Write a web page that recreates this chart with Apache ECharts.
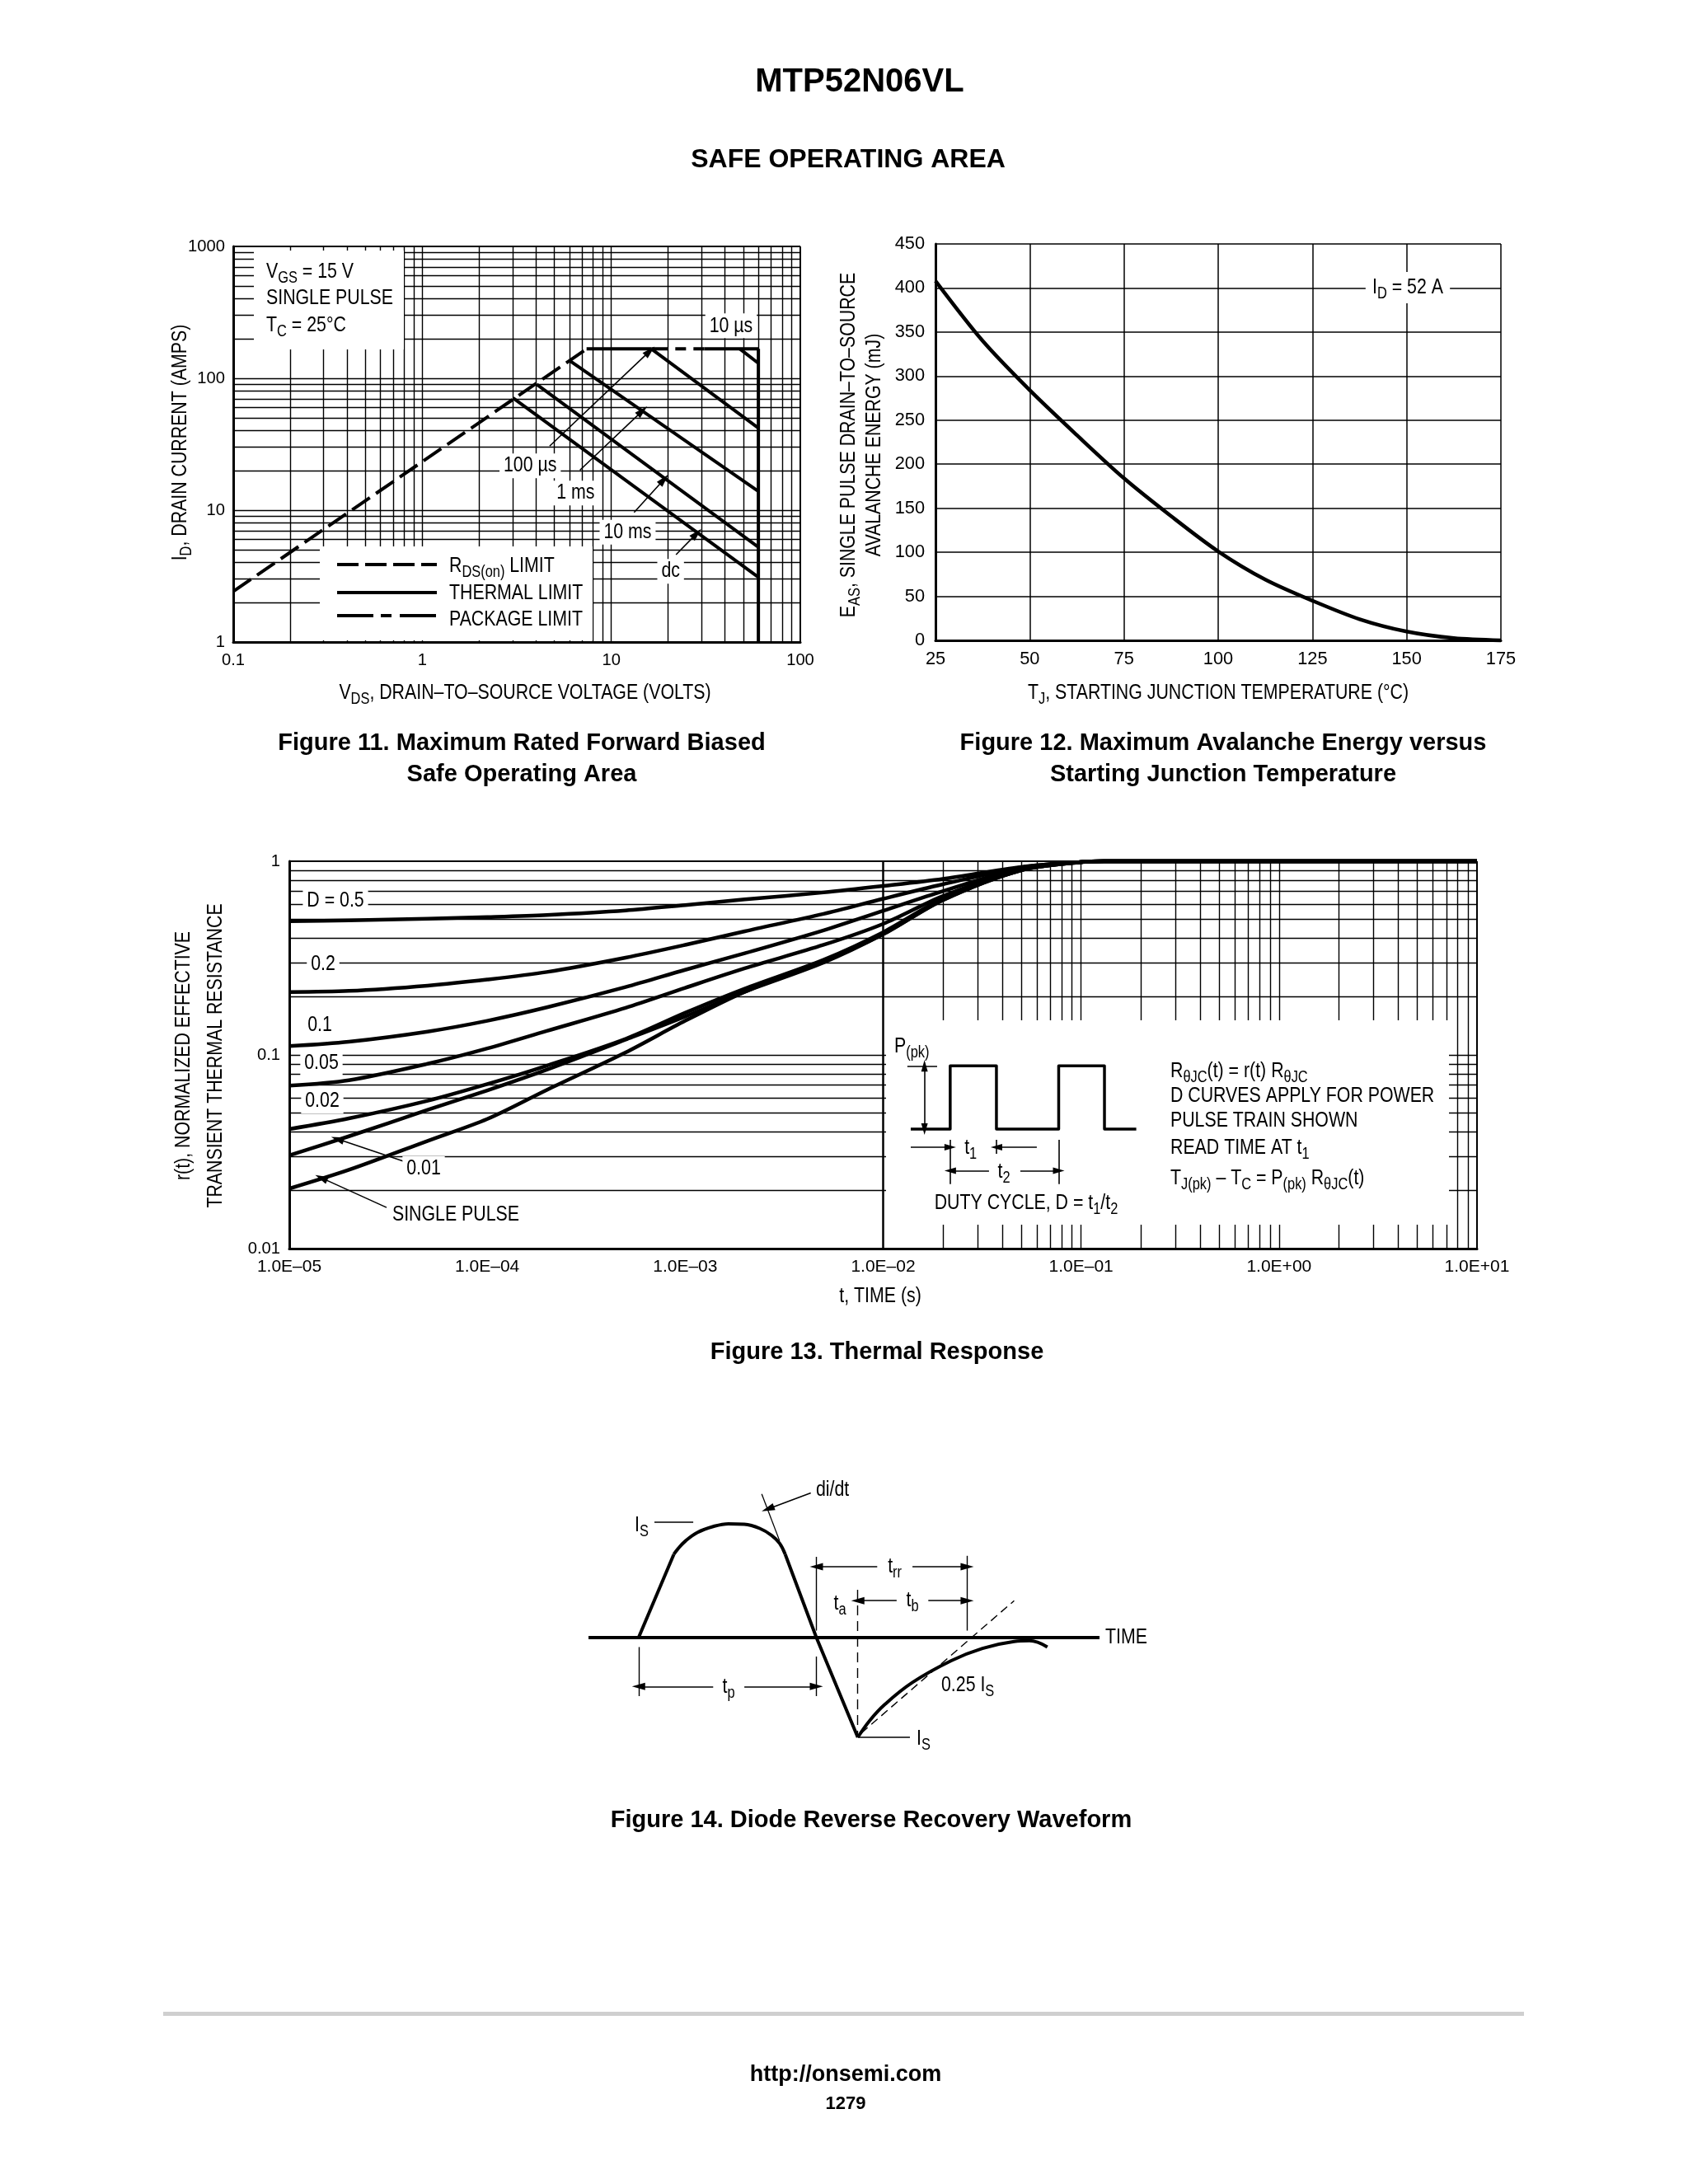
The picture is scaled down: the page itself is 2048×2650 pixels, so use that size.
<!DOCTYPE html>
<html><head><meta charset="utf-8">
<script src="https://cdn.jsdelivr.net/npm/echarts@6.0.0/dist/echarts.min.js"></script>
<style>html,body{margin:0;padding:0;background:#fff}#c{width:2048px;height:2650px}</style>
</head><body><div id="c"></div>
<script>
// ---------------- DATA ----------------
// Figure 11 : safe operating area (VDS volts, ID amps)
const F11_X_TICKS = ['0.1', '1', '10', '100'];
const F11_Y_TICKS = ['1', '10', '100', '1000'];
const F11_RDS_LIMIT = [[0.1, 2.42], [7.4, 167]];
const F11_TOP_THERMAL = [[7.4, 167], [16.3, 167]];
const F11_PACKAGE_LIMIT = [[16.3, 167], [31, 167]];
const F11_TOP_RIGHT = [[31, 167], [60, 167]];
const F11_VDSS_LIMIT = [[60, 1], [60, 167]];
const F11_10US = [[47.9, 167], [60, 130]];
const F11_100US = [[16.3, 167], [60, 42]];
const F11_1MS = [[5.98, 137], [60, 13.9]];
const F11_10MS = [[4.03, 90], [60, 5.25]];
const F11_DC = [[3.02, 71], [60, 3.1]];
const F11_ARROWS = [
  [[4.72, 30.6], [16.0, 161]],
  [[6.82, 20.1], [14.6, 56.6]],
  [[13.2, 9.6], [19.0, 17.1]],
  [[22.0, 4.6], [28.3, 6.65]]
];
const F11_LABELS = [['100 µs', [3.72, 21.7]], ['1 ms', [6.47, 13.5]], ['10 ms', [12.2, 6.8]], ['dc', [20.6, 3.44]], ['10 µs', [43, 250]]];

// Figure 12 : avalanche energy vs starting junction temperature
const F12_TJ = [25, 37.5, 50, 62.5, 75, 87.5, 100, 112.5, 125, 137.5, 150, 162.5, 175];
const F12_EAS = [408, 340, 284, 233, 184, 141, 101, 69, 45, 24, 10, 2.5, 0];

// Figure 13 : thermal response
const F13_X_TICKS = ['1.0E–05', '1.0E–04', '1.0E–03', '1.0E–02', '1.0E–01', '1.0E+00', '1.0E+01'];
const F13_Y_TICKS = ['0.01', '0.1', '1'];
const F13_T = [1e-5, 2e-5, 5e-5, 1e-4, 2e-4, 5e-4, 1e-3, 2e-3, 5e-3, 1e-2, 2e-2, 5e-2, 1e-1, 1.3e-1, 1, 10];
const F13_D050 = [0.49, 0.495, 0.505, 0.515, 0.528, 0.557, 0.594, 0.635, 0.69, 0.745, 0.81, 0.935, 0.99, 1, 1, 1];
const F13_D020 = [0.211, 0.214, 0.228, 0.245, 0.268, 0.318, 0.37, 0.435, 0.535, 0.64, 0.76, 0.93, 0.99, 1, 1, 1];
const F13_D010 = [0.111, 0.117, 0.132, 0.150, 0.176, 0.224, 0.275, 0.335, 0.44, 0.555, 0.70, 0.92, 0.99, 1, 1, 1];
const F13_D005 = [0.0694, 0.074, 0.090, 0.108, 0.133, 0.175, 0.222, 0.28, 0.37, 0.475, 0.66, 0.91, 0.99, 1, 1, 1];
const F13_D002 = [0.0414, 0.047, 0.058, 0.0707, 0.088, 0.121, 0.165, 0.22, 0.31, 0.43, 0.64, 0.90, 0.99, 1, 1, 1];
const F13_D001 = [0.0303, 0.038, 0.052, 0.0656, 0.084, 0.12, 0.158, 0.212, 0.30, 0.42, 0.63, 0.90, 0.99, 1, 1, 1];
const F13_SINGLE = [0.0204, 0.0255, 0.036, 0.0467, 0.066, 0.103, 0.15, 0.212, 0.305, 0.42, 0.63, 0.90, 0.99, 1, 1, 1];
const F13_ARROWS = [[[3.8e-5, 0.0282], [1.75e-5, 0.0368]], [[3.1e-5, 0.0163], [1.45e-5, 0.0232]]];
// inset pulse train (arbitrary time units, normalised power)
const F13_PULSE = [[0, 0], [1.75, 0], [1.75, 1], [3.8, 1], [3.8, 0], [6.56, 0], [6.56, 1], [8.59, 1], [8.59, 0], [10, 0]];

// Figure 14 : diode reverse recovery waveform (arbitrary time, current normalised to IS)
const F14_BASE = [[0, 0], [100, 0]];
const F14_RISE = [[9.8, 0], [16.7, 0.835]];
const F14_ARC = [[16.7, 0.835], [17.5, 0.89], [19.0, 0.97], [21.3, 1.054], [24.4, 1.114], [27.4, 1.141], [30.5, 1.136], [33.5, 1.095], [35.8, 1.026], [37.4, 0.945], [38.5, 0.835]];
const F14_FALL = [[38.5, 0.835], [44.6, 0], [52.7, -1]];
const F14_RECOVERY = [[52.7, -1], [55.0, -0.834], [58.0, -0.67], [63.4, -0.45], [71.0, -0.232], [77.1, -0.109], [83.3, -0.04], [86.3, -0.032], [89.8, -0.095]];

// ---------------- FONTS ----------------
function hasFont(name) {
  const ctx = document.createElement('canvas').getContext('2d');
  const s = 'THERMAL LIMIT 0123 mmmWW';
  ctx.font = '40px monospace'; const a = ctx.measureText(s).width;
  ctx.font = '40px "' + name + '", monospace'; const b = ctx.measureText(s).width;
  return Math.abs(a - b) > 0.5;
}
const NARROW = hasFont('Liberation Sans Narrow');
const CF = NARROW ? '"Liberation Sans Narrow", "Liberation Sans", Arial, sans-serif' : '"Liberation Sans", Arial, sans-serif';
const BF = '"Liberation Sans", Arial, Helvetica, sans-serif';
const K = NARROW ? 1 : 0.84;
const SX = NARROW ? 1 : 0.82;
const fs = n => Math.round(n * K * 10) / 10;

function T(x, y, text, o) {
  o = o || {};
  const size = o.size || 26;
  const fam = o.bold ? BF : CF;
  return {
    type: 'text', x: x, y: y, z: 20, rotation: o.rot || 0, scaleX: o.bold ? 1 : SX, silent: true,
    style: {
      text: text, fill: '#000', fontFamily: fam, fontWeight: o.bold ? 'bold' : 'normal', fontSize: size,
      align: o.align || 'left', verticalAlign: 'middle',
      backgroundColor: o.bg || 'transparent', padding: o.pad || 0,
      rich: { s: { fontFamily: fam, fontSize: Math.round(size * 0.76), padding: [Math.round(size * 0.55), 0, 0, 0] } }
    }
  };
}
function R(x, y, w, h, fill) { return { type: 'rect', z: 3, silent: true, shape: { x: x, y: y, width: w, height: h }, style: { fill: fill || '#fff' } }; }
function L(x1, y1, x2, y2, dash, w) { return { type: 'line', z: 21, silent: true, shape: { x1: x1, y1: y1, x2: x2, y2: y2 }, style: { stroke: '#000', lineWidth: w || 4, lineDash: dash || null } }; }

// ---------------- HELPERS ----------------
function logLines(min, max) {
  const out = [];
  for (let e = Math.round(Math.log10(min)); e < Math.round(Math.log10(max)); e++) {
    for (let m = 1; m <= 9; m++) { const v = m * Math.pow(10, e); if (v > min * 1.0001) out.push(v); }
  }
  return out;
}
function gridSeries(gi, xs, ys, xB, yB, w) {
  const d = [];
  xs.forEach(v => d.push({ xAxis: v }));
  ys.forEach(v => d.push({ yAxis: v }));
  d.push({ xAxis: xB, lineStyle: { color: '#000', width: 2, type: 'solid' } });
  d.push({ yAxis: yB, lineStyle: { color: '#000', width: 2, type: 'solid' } });
  return {
    type: 'line', xAxisIndex: gi, yAxisIndex: gi, z: 1, silent: true, symbol: 'none', clip: false,
    data: [[xs[0], ys[0]]], lineStyle: { opacity: 0 },
    markLine: { z: 1, silent: true, animation: false, symbol: ['none', 'none'], label: { show: false }, emphasis: { disabled: true },
      lineStyle: { color: '#000', width: w, type: 'solid' }, data: d }
  };
}
function curve(gi, data, o) {
  o = o || {};
  return {
    type: 'line', xAxisIndex: gi, yAxisIndex: gi, data: data, symbol: 'none', showSymbol: false, z: o.z || 5, silent: true, clip: false,
    smooth: o.smooth || false,
    lineStyle: { color: '#000', width: o.w || 4, type: o.dash || 'solid', cap: 'butt', join: 'round' }
  };
}
function seg(a, b, o) {
  o = o || {};
  const ss = o.ss || [9, 16];
  return [
    { coord: a, symbol: o.s0 || 'none', symbolSize: ss, lineStyle: { color: '#000', width: o.w || 1.6, type: o.dash || 'solid' } },
    { coord: b, symbol: o.s1 || 'none', symbolSize: ss }
  ];
}
function annSeries(gi, segs, anchor) {
  return {
    type: 'line', xAxisIndex: gi, yAxisIndex: gi, z: 6, silent: true, symbol: 'none', clip: false,
    data: [anchor], lineStyle: { opacity: 0 },
    markLine: { z: 6, silent: true, animation: false, label: { show: false }, emphasis: { disabled: true }, symbol: ['none', 'none'], data: segs }
  };
}
const tickIdx = (v, off) => Math.round(Math.log10(Number(v))) + off;
function logAxis(gi, min, max, labels, off, size, margin) {
  return {
    gridIndex: gi, type: 'log', logBase: 10, min: min, max: max, z: 2,
    axisLine: { show: true, onZero: false, lineStyle: { color: '#000', width: 3 } },
    axisTick: { show: false }, splitLine: { show: false }, minorTick: { show: false }, minorSplitLine: { show: false },
    axisLabel: { show: true, margin: margin, color: '#000', fontFamily: CF, fontSize: fs(size), showMinLabel: true, showMaxLabel: true,
      formatter: v => labels[tickIdx(v, off)] || '' }
  };
}
function valAxis(gi, min, max, interval, size, margin) {
  return {
    gridIndex: gi, type: 'value', min: min, max: max, interval: interval, z: 2,
    axisLine: { show: true, onZero: false, lineStyle: { color: '#000', width: 3 } },
    axisTick: { show: false },
    splitLine: { show: true, lineStyle: { color: '#000', width: 1.5 } },
    axisLabel: { show: true, margin: margin, color: '#000', fontFamily: CF, fontSize: fs(size), showMinLabel: true, showMaxLabel: true }
  };
}
function hidden(gi, min, max) { return { gridIndex: gi, type: 'value', min: min, max: max, show: false, splitLine: { show: false } }; }

const zip = (xs, ys) => xs.map((x, i) => [x, ys[i]]);

// ---------------- CHART ----------------
const chart = echarts.init(document.getElementById('c'), null, { width: 2048, height: 2650, renderer: 'canvas' });

const grids = [
  { left: 283, top: 299, width: 688, height: 480 },
  { left: 1135, top: 296, width: 686, height: 481 },
  { left: 351, top: 1045, width: 1441, height: 470 },
  { left: 714, top: 1793.4, width: 620, height: 338.8 },
  { left: 1077.6, top: 1262.6, width: 301, height: 199.4 }
].map(g => Object.assign(g, { containLabel: false, outerBoundsMode: 'none', show: false }));

const series = [
  // ---- Fig 11
  gridSeries(0, logLines(0.1, 100), logLines(1, 1000), 100, 1000, 1.4),
  curve(0, F11_RDS_LIMIT, { dash: [26, 9] }),
  curve(0, F11_TOP_THERMAL),
  curve(0, F11_PACKAGE_LIMIT, { dash: [20, 9, 13, 9] }),
  curve(0, F11_TOP_RIGHT),
  curve(0, F11_VDSS_LIMIT),
  curve(0, F11_10US),
  curve(0, F11_100US),
  curve(0, F11_1MS),
  curve(0, F11_10MS),
  curve(0, F11_DC),
  annSeries(0, F11_ARROWS.map(a => seg(a[0], a[1], { s1: 'triangle' })), [0.1, 1]),
  // ---- Fig 12
  curve(1, zip(F12_TJ, F12_EAS), { smooth: 0.3, w: 4.5 }),
  // ---- Fig 13
  gridSeries(2, logLines(1e-5, 10), logLines(0.01, 1), 10, 1, 1.4),
  curve(2, zip(F13_T, F13_D050), { smooth: 0.3, w: 4.5 }),
  curve(2, zip(F13_T, F13_D020), { smooth: 0.3, w: 4.5 }),
  curve(2, zip(F13_T, F13_D010), { smooth: 0.3, w: 4.5 }),
  curve(2, zip(F13_T, F13_D005), { smooth: 0.3, w: 4.5 }),
  curve(2, zip(F13_T, F13_D002), { smooth: 0.3, w: 4.5 }),
  curve(2, zip(F13_T, F13_D001), { smooth: 0.3, w: 4.5 }),
  curve(2, zip(F13_T, F13_SINGLE), { smooth: 0.3, w: 4.5 }),
  annSeries(2, F13_ARROWS.map(a => seg(a[0], a[1], { s1: 'triangle' })), [1e-5, 0.01]),
  // ---- Fig 13 inset
  curve(4, F13_PULSE, { w: 3.5, z: 6 }),
  annSeries(4, [
    seg([0.61, 0], [0.61, 1], { s0: 'triangle', s1: 'triangle', ss: [8, 14] }),
    seg([-0.15, 1], [1.17, 1], { w: 1.5 }),
    seg([0, -0.287], [1.75, -0.287], { s1: 'triangle', ss: [8, 14] }),
    seg([5.59, -0.287], [3.8, -0.287], { s1: 'triangle', ss: [8, 14] }),
    seg([1.75, -0.17], [1.75, -0.87]),
    seg([3.8, -0.17], [3.8, -0.39]),
    seg([6.56, -0.17], [6.56, -0.87]),
    seg([3.47, -0.66], [1.75, -0.66], { s1: 'triangle', ss: [8, 14] }),
    seg([4.86, -0.66], [6.56, -0.66], { s1: 'triangle', ss: [8, 14] })
  ], [0, 0]),
  // ---- Fig 14
  curve(3, F14_BASE, { w: 4, z: 6 }),
  curve(3, F14_RISE, { w: 4, z: 6 }),
  curve(3, F14_ARC, { w: 4, z: 6, smooth: 0.4 }),
  curve(3, F14_FALL, { w: 4, z: 6 }),
  curve(3, F14_RECOVERY, { w: 4, z: 6, smooth: 0.4 }),
  annSeries(3, [
    seg([12.9, 1.155], [20.5, 1.155], { w: 1.5 }),
    seg([33.9, 1.44], [37.4, 0.97], { w: 1.3 }),
    seg([43.5, 1.45], [35.1, 1.29], { s1: 'triangle', ss: [9, 16] }),
    seg([9.8, -0.095], [9.8, -0.587], { w: 1.4 }),
    seg([44.6, 0.81], [44.6, 0.07], { w: 1.4 }),
    seg([44.6, -0.19], [44.6, -0.587], { w: 1.4 }),
    seg([74.1, 0.82], [74.1, 0.07], { w: 1.4 }),
    seg([52.7, 0.48], [52.7, -1], { w: 1.4, dash: [12, 7] }),
    seg([53.4, -0.957], [83.3, 0.37], { w: 1.4, dash: [10, 6] }),
    seg([52.7, -1], [62.9, -1], { w: 1.5 }),
    seg([24.4, -0.49], [9.8, -0.49], { s1: 'triangle' }),
    seg([30.5, -0.49], [44.6, -0.49], { s1: 'triangle' }),
    seg([56.5, 0.71], [44.6, 0.71], { s1: 'triangle' }),
    seg([63.4, 0.71], [74.1, 0.71], { s1: 'triangle' }),
    seg([60.3, 0.37], [52.7, 0.37], { s1: 'triangle' }),
    seg([66.5, 0.37], [74.1, 0.37], { s1: 'triangle' })
  ], [0, 0])
];

const graphicBase = [
  // page titles
  T(1043, 100, 'MTP52N06VL', { bold: true, size: 40, align: 'center' }),
  T(1029, 194, 'SAFE OPERATING AREA', { bold: true, size: 32, align: 'center' }),
  // ---- Fig 11 boxes
  R(308, 304, 182, 120),
  T(323, 330, 'V{s|GS} = 15 V'),
  T(323, 362, 'SINGLE PULSE'),
  T(323, 395, 'T{s|C} = 25°C'),
  R(388, 663, 331, 114),
  L(409, 685, 530, 685, [26, 8]),
  L(409, 719, 530, 719, null),
  L(409, 747, 530, 747, [44, 9, 13, 10]),
  T(545, 687, 'R{s|DS(on)} LIMIT'),
  T(545, 720, 'THERMAL LIMIT'),
  T(545, 752, 'PACKAGE LIMIT'),
  T(219, 537, 'I{s|D}, DRAIN CURRENT (AMPS)', { rot: Math.PI / 2, align: 'center' }),
  T(637, 841, 'V{s|DS}, DRAIN–TO–SOURCE VOLTAGE (VOLTS)', { align: 'center' }),
  T(633, 902, 'Figure 11. Maximum Rated Forward Biased', { bold: true, size: 29, align: 'center' }),
  T(633, 940, 'Safe Operating Area', { bold: true, size: 29, align: 'center' }),
  // ---- Fig 12
  T(1708, 349, 'I{s|D} = 52 A', { align: 'center', bg: '#fff', pad: [2, 10] }),
  T(1030, 540, 'E{s|AS}, SINGLE PULSE DRAIN–TO–SOURCE', { rot: Math.PI / 2, align: 'center' }),
  T(1061, 540, 'AVALANCHE ENERGY (mJ)', { rot: Math.PI / 2, align: 'center' }),
  T(1478, 841, 'T{s|J}, STARTING JUNCTION TEMPERATURE (°C)', { align: 'center' }),
  T(1484, 902, 'Figure 12. Maximum Avalanche Energy versus', { bold: true, size: 29, align: 'center' }),
  T(1484, 940, 'Starting Junction Temperature', { bold: true, size: 29, align: 'center' }),
  // ---- Fig 13
  T(407, 1093, 'D = 0.5', { align: 'center', bg: '#fff', pad: [2, 6] }),
  T(392, 1170, '0.2', { align: 'center', bg: '#fff', pad: [2, 6] }),
  T(388, 1244, '0.1', { align: 'center', bg: '#fff', pad: [2, 6] }),
  T(390, 1290, '0.05', { align: 'center', bg: '#fff', pad: [2, 6] }),
  T(391, 1336, '0.02', { align: 'center', bg: '#fff', pad: [2, 6] }),
  T(514, 1418, '0.01', { align: 'center', bg: '#fff', pad: [2, 6] }),
  T(553, 1474, 'SINGLE PULSE', { align: 'center', bg: '#fff', pad: [2, 6] }),
  R(1075, 1238, 683, 248),
  T(1085, 1270, 'P{s|(pk)}'),
  T(1177.7, 1393, 't{s|1}', { align: 'center' }),
  T(1218, 1422, 't{s|2}', { align: 'center' }),
  T(1245, 1460, 'DUTY CYCLE, D = t{s|1}/t{s|2}', { align: 'center' }),
  T(1420, 1300, 'R{s|θJC}(t) = r(t) R{s|θJC}'),
  T(1420, 1330, 'D CURVES APPLY FOR POWER'),
  T(1420, 1360, 'PULSE TRAIN SHOWN'),
  T(1420, 1393, 'READ TIME AT t{s|1}'),
  T(1420, 1430, 'T{s|J(pk)} – T{s|C} = P{s|(pk)} R{s|θJC}(t)'),
  T(223, 1281, 'r(t), NORMALIZED EFFECTIVE', { rot: Math.PI / 2, align: 'center' }),
  T(262, 1281, 'TRANSIENT THERMAL RESISTANCE', { rot: Math.PI / 2, align: 'center' }),
  T(1068, 1573, 't, TIME (s)', { align: 'center' }),
  T(1064, 1641, 'Figure 13. Thermal Response', { bold: true, size: 29, align: 'center' }),
  // ---- Fig 14
  T(770, 1851, 'I{s|S}'),
  T(990, 1808, 'di/dt'),
  T(1085.6, 1901, 't{s|rr}', { align: 'center' }),
  T(1019, 1946, 't{s|a}', { align: 'center' }),
  T(1107, 1942, 't{s|b}', { align: 'center' }),
  T(1341, 1987, 'TIME'),
  T(884, 2047, 't{s|p}', { align: 'center' }),
  T(1142, 2045, '0.25 I{s|S}'),
  T(1112, 2110, 'I{s|S}'),
  T(1057, 2209, 'Figure 14. Diode Reverse Recovery Waveform', { bold: true, size: 29, align: 'center' }),
  // footer
  R(198, 2441, 1651, 5, '#cfcfcf'),
  T(1026, 2518, 'http://onsemi.com', { bold: true, size: 27, align: 'center' }),
  T(1026, 2553, '1279', { bold: true, size: 22, align: 'center' })
];

const option = {
  animation: false,
  backgroundColor: '#fff',
  grid: grids,
  xAxis: [
    logAxis(0, 0.1, 100, F11_X_TICKS, 1, 24, 12),
    valAxis(1, 25, 175, 25, 26, 12),
    logAxis(2, 1e-5, 10, F13_X_TICKS, 5, 25, 12),
    hidden(3, 0, 100),
    hidden(4, -1, 10)
  ],
  yAxis: [
    logAxis(0, 1, 1000, F11_Y_TICKS, 0, 24, 10),
    valAxis(1, 0, 450, 50, 26, 13),
    logAxis(2, 0.01, 1, F13_Y_TICKS, 2, 24, 11),
    hidden(3, -1.2, 1.6),
    hidden(4, -1.2, 1.4)
  ],
  series: series,
  graphic: { elements: graphicBase }
};
chart.setOption(option);

// data-anchored labels of figure 11
const extra = F11_LABELS.map(([txt, pt]) => {
  const p = chart.convertToPixel({ gridIndex: 0 }, pt);
  return T(p[0], p[1], txt, { align: 'center', bg: '#fff', pad: [2, 6] });
});
chart.setOption({ graphic: { elements: graphicBase.concat(extra) } });
</script>
</body></html>
